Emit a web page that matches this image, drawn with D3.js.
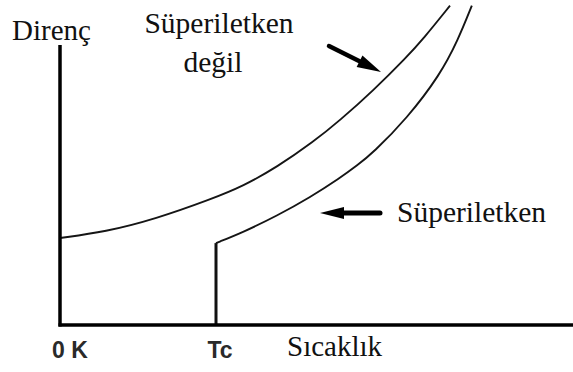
<!DOCTYPE html>
<html>
<head>
<meta charset="utf-8">
<script src="https://cdn.jsdelivr.net/npm/d3@7"></script>
<style>
  html, body { margin: 0; padding: 0; background: #fff; }
  svg { display: block; }
</style>
</head>
<body>
<svg id="chart" width="573" height="372"></svg>
<script>
// Resistance vs temperature for a normal metal and a superconductor.
// Temperature and resistance are in arbitrary units (0–100).

// Normal (non-superconducting) metal
const normalTemp = [0, 8.7, 18.3, 29.2, 35.2, 41.7, 48.7, 53.8, 60.2, 66.7, 69.8, 75];
const normalRes  = [27.2, 29.1, 33.1, 39.4, 43.4, 49.3, 57.2, 63.9, 73.2, 83.8, 89.3, 99.8];

// Superconductor: resistance falls to zero at the critical temperature Tc
const criticalTemp = 30;
const superTemp = [30, 35.2, 41.7, 48.1, 53.8, 57.1, 60.2, 66.7, 73.1, 76.5, 79.2];
const superRes  = [25.6, 29.0, 34.1, 39.9, 45.9, 49.8, 53.8, 64.5, 78.2, 88.9, 99.8];

// Axis extent (resistance axis top) and text
const resAxisTop = 87.5;
const yTitle = "Direnç";
const xTitle = "Sıcaklık";
const xTickLabels = ["0 K", "Tc"];
const normalLabel = ["Süperiletken", "değil"];
const superLabel = "Süperiletken";

const svg = d3.select("#chart");
const W = 573, H = 372;

const x = d3.scaleLinear().domain([0, 100]).range([60, 580]);
const y = d3.scaleLinear().domain([0, 100]).range([325, 5]);

svg.append("rect").attr("width", W).attr("height", H).attr("fill", "#fff");

const line = d3.line()
  .x(d => x(d[0]))
  .y(d => y(d[1]))
  .curve(d3.curveBasis);

// Curves
svg.append("path")
  .datum(d3.zip(normalTemp, normalRes))
  .attr("d", line)
  .attr("fill", "none")
  .attr("stroke", "#151515")
  .attr("stroke-width", 1.9);

svg.append("path")
  .datum(d3.zip(superTemp, superRes))
  .attr("d", line)
  .attr("fill", "none")
  .attr("stroke", "#151515")
  .attr("stroke-width", 1.9);

// Vertical drop at Tc
svg.append("line")
  .attr("x1", x(criticalTemp)).attr("x2", x(criticalTemp))
  .attr("y1", y(0)).attr("y2", y(superRes[0]))
  .attr("stroke", "#111").attr("stroke-width", 3);

// Axes
svg.append("line")
  .attr("x1", x(0)).attr("x2", x(0))
  .attr("y1", y(0) + 1.5).attr("y2", y(resAxisTop))
  .attr("stroke", "#000").attr("stroke-width", 3.5);

svg.append("line")
  .attr("x1", x(0) - 1.5).attr("x2", W)
  .attr("y1", y(0)).attr("y2", y(0))
  .attr("stroke", "#000").attr("stroke-width", 3.5);

// Axis titles
const serif = "'Liberation Serif', 'Times New Roman', serif";
const sans = "'Liberation Sans', Arial, sans-serif";

svg.append("text")
  .attr("x", 12).attr("y", 40)
  .attr("font-family", serif).attr("font-size", 29)
  .attr("fill", "#111")
  .text(yTitle);

svg.append("text")
  .attr("x", 287).attr("y", 356)
  .attr("font-family", serif).attr("font-size", 29)
  .attr("fill", "#111")
  .text(xTitle);

// Tick labels under the temperature axis
svg.selectAll("text.tick")
  .data([0, criticalTemp])
  .join("text")
  .attr("class", "tick")
  .attr("x", (d, i) => x(d) + (i === 0 ? 10 : 4))
  .attr("y", 358)
  .attr("text-anchor", "middle")
  .attr("font-family", sans).attr("font-weight", "bold")
  .attr("font-size", 23)
  .attr("fill", "#2a2a2a")
  .text((d, i) => xTickLabels[i]);

// Labels for the curves
const lbl = svg.append("text")
  .attr("font-family", serif).attr("font-size", 29.5)
  .attr("fill", "#111")
  .attr("text-anchor", "middle");
lbl.append("tspan").attr("x", 219).attr("y", 33).text(normalLabel[0]);
lbl.append("tspan").attr("x", 213).attr("y", 72).text(normalLabel[1]);

svg.append("text")
  .attr("x", 397).attr("y", 222)
  .attr("font-family", serif).attr("font-size", 29.5)
  .attr("fill", "#111")
  .text(superLabel);

// Arrows pointing at the curves
function arrow(x1, y1, x2, y2, shaft, headLen, headW) {
  const a = Math.atan2(y2 - y1, x2 - x1);
  const bx = x2 - headLen * Math.cos(a), by = y2 - headLen * Math.sin(a);
  svg.append("line")
    .attr("x1", x1).attr("y1", y1).attr("x2", bx).attr("y2", by)
    .attr("stroke", "#000").attr("stroke-width", shaft).attr("stroke-linecap", "round");
  const nx = -Math.sin(a) * headW / 2, ny = Math.cos(a) * headW / 2;
  svg.append("path")
    .attr("d", `M${x2},${y2}L${bx + nx},${by + ny}L${bx - nx},${by - ny}Z`)
    .attr("fill", "#000");
}
arrow(329, 46, 381, 72, 4.5, 24, 13);
arrow(380, 213, 320, 213, 5, 24, 12);
</script>
</body>
</html>
